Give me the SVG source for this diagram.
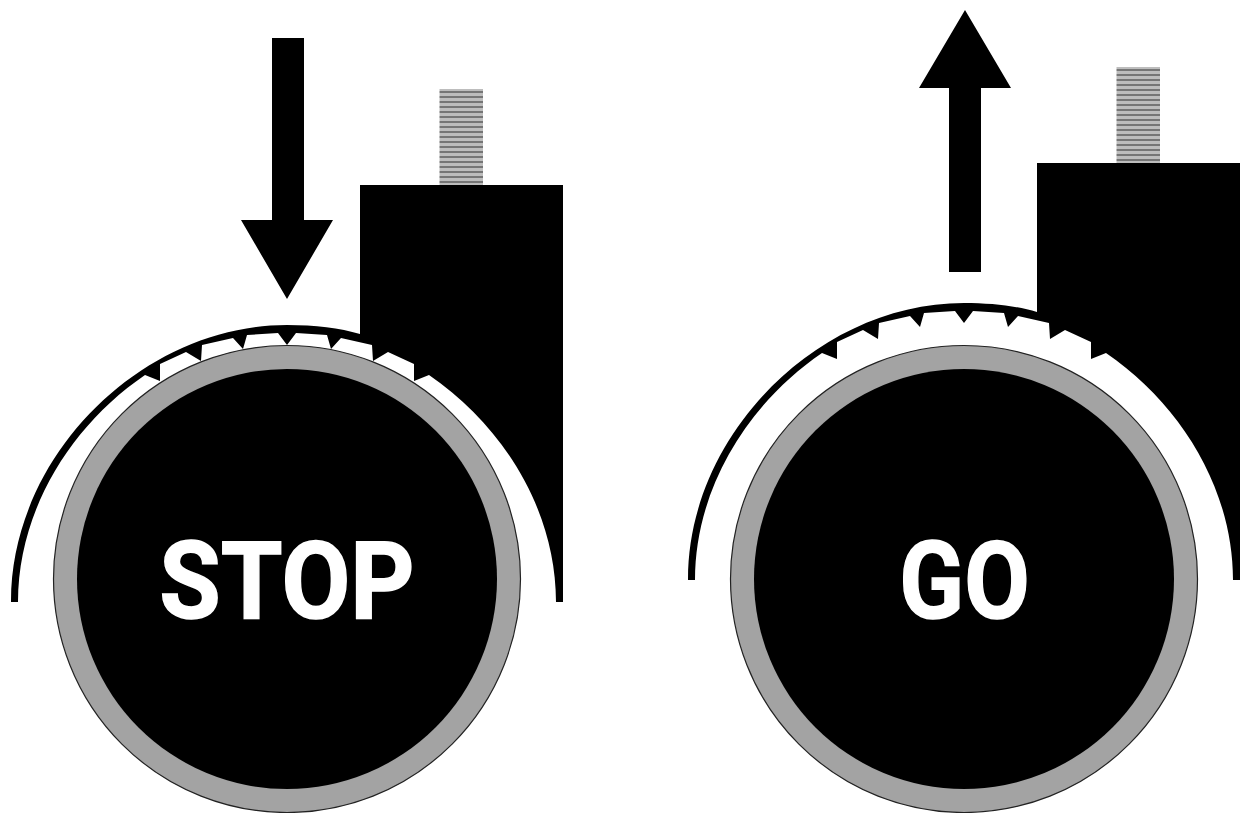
<svg xmlns="http://www.w3.org/2000/svg" width="1243" height="813" viewBox="0 0 1243 813">
<style>
.k{fill:#000}
.gray{fill:#a3a3a3;stroke:#222;stroke-width:1.2}
.label{font-family:Roboto,"Liberation Sans",sans-serif;font-weight:700;font-size:108px;fill:#fff;stroke:#fff;stroke-width:1.5;text-anchor:middle}
</style>
<defs>
<pattern id="thread" width="44" height="5" patternUnits="userSpaceOnUse" y="1">
<rect width="44" height="5" fill="#bdbdbd"/>
<rect y="0" width="44" height="2" fill="#767676"/>
</pattern>
<g id="brake">
<path class="k" d="M11,601 C11,456 142,325 287,325 C315,325 340,328 360,334 L360,185 L563,185 L563,602 L556,602 C556,510.800 503.600,425.900 429,375 L414,381 L414,364 L388,352 L373,361 L372,345 L341,338 L331,349 L327,335 L296,333 L287,345 L278,333 L247,335 L243,349 L233,338 L202,345 L201,361 L186,352 L160,364 L160,381 L145,375 C70.400,425.900 18,510.800 18,602 L11,602 Z"/>
<rect x="439.500" y="89" width="43.500" height="96" fill="url(#thread)"/>
</g>
</defs>
<g id="stop-brake"><use href="#brake"/></g>
<g id="stop-wheel">
<circle class="gray" cx="287" cy="579" r="233.500"/>
<circle class="k" cx="287" cy="579" r="210"/>
<text class="label" transform="translate(287,618) scale(.925,1)">STOP</text>
</g>
<g id="stop-arrow"><path class="k" d="M272,38 H304 V220 H333 L287,299 L241,220 H272 Z"/></g>
<g id="go-brake"><use href="#brake" transform="translate(677,-22)"/></g>
<g id="go-wheel">
<circle class="gray" cx="964" cy="579" r="233.500"/>
<circle class="k" cx="964" cy="579" r="210"/>
<text class="label" transform="translate(964.500,618) scale(.88,1)">GO</text>
</g>
<g id="go-arrow"><path class="k" d="M949,272 H981 V88 H1011 L965,10 L919,88 H949 Z"/></g>
</svg>
